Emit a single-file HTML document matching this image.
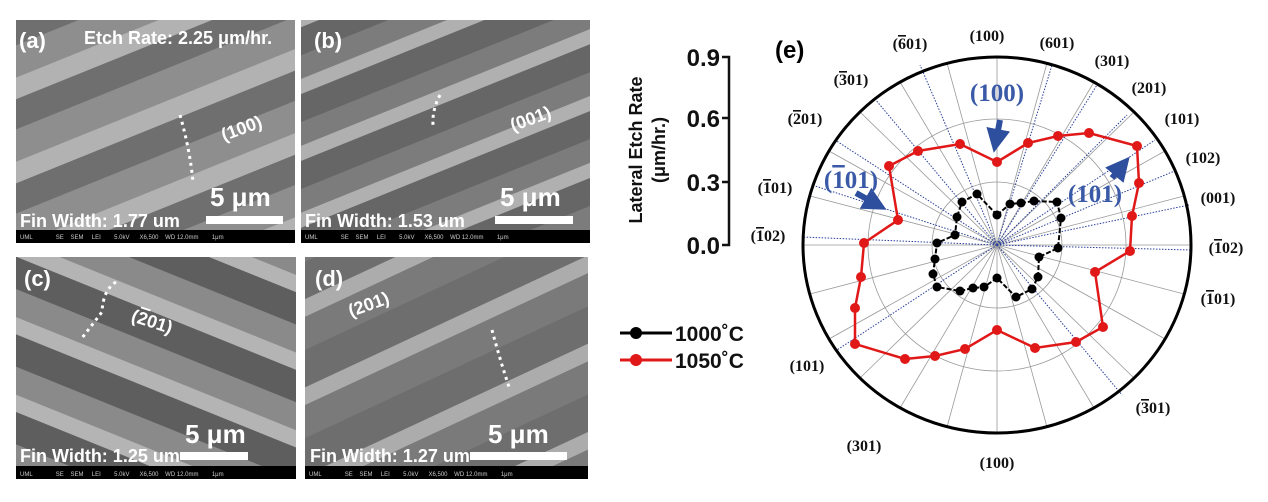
<!DOCTYPE html>
<html><head><meta charset="utf-8"><style>
html,body{margin:0;padding:0;background:#fff;}
svg{display:block;}
.o{text-decoration:overline;}
</style></head><body>
<svg width="1268" height="502" viewBox="0 0 1268 502" xmlns="http://www.w3.org/2000/svg" font-family="Liberation Sans, sans-serif">
<defs>
<pattern id="pa" width="400" height="78" patternUnits="userSpaceOnUse" patternTransform="rotate(-22)">
<rect width="400" height="78" fill="#6f6f6f"/><rect y="0" width="400" height="20" fill="#b2b2b2"/><rect y="48" width="400" height="30" fill="#8e8e8e"/></pattern>
<pattern id="pb" width="400" height="62" patternUnits="userSpaceOnUse" patternTransform="rotate(-22)">
<rect width="400" height="62" fill="#7c7c7c"/><rect y="0" width="400" height="14" fill="#b0b0b0"/><rect y="14" width="400" height="26" fill="#666"/></pattern>
<pattern id="pc" width="400" height="72" patternUnits="userSpaceOnUse" patternTransform="rotate(22)">
<rect width="400" height="72" fill="#8a8a8a"/><rect y="0" width="400" height="16" fill="#b4b4b4"/><rect y="16" width="400" height="30" fill="#5e5e5e"/></pattern>
<pattern id="pd" width="400" height="80" patternUnits="userSpaceOnUse" patternTransform="rotate(-25)">
<rect width="400" height="80" fill="#6e6e6e"/><rect y="0" width="400" height="16" fill="#acacac"/><rect y="16" width="400" height="30" fill="#7a7a7a"/></pattern>
<marker id="ah" markerWidth="4" markerHeight="4" refX="2" refY="2" orient="auto"><path d="M0,0 L4,2 L0,4z" fill="#2e4f9e"/></marker>
</defs>
<g font-weight="bold" fill="#fff">
<rect x="16" y="20" width="279" height="222" fill="url(#pa)"/>
<rect x="16" y="230" width="279" height="13" fill="#000"/>
<text x="19" y="48" font-size="22">(a)</text>
<text x="84" y="44" font-size="18">Etch Rate: 2.25 μm/hr.</text>
<text x="221" y="135" font-size="18" transform="rotate(-20 240 130)">(100)</text>
<path d="M180,115 Q190,150 193,182" stroke="#fff" stroke-width="3" stroke-dasharray="3 4" fill="none"/>
<text x="210" y="206" font-size="26">5 μm</text>
<rect x="206" y="216" width="77" height="8"/>
<text x="20" y="227" font-size="18">Fin Width: 1.77 um</text>
<rect x="301" y="20" width="289" height="222" fill="url(#pb)"/>
<rect x="301" y="230" width="289" height="13" fill="#000"/>
<text x="314" y="48" font-size="22">(b)</text>
<text x="510" y="125" font-size="18" transform="rotate(-20 530 120)">(001)</text>
<path d="M440,95 Q432,110 433,125" stroke="#fff" stroke-width="3" stroke-dasharray="3 4" fill="none"/>
<text x="500" y="206" font-size="26">5 μm</text>
<rect x="495" y="216" width="78" height="8"/>
<text x="305" y="227" font-size="18">Fin Width: 1.53 um</text>
<rect x="16" y="257" width="280" height="213" fill="url(#pc)"/>
<rect x="16" y="466" width="280" height="13" fill="#000"/>
<text x="24" y="286" font-size="22">(c)</text>
<text x="132" y="330" font-size="18" transform="rotate(18 160 320)">(<tspan class="o">2</tspan>01)</text>
<path d="M116,282 Q103,290 102,312 L82,338" stroke="#fff" stroke-width="3" stroke-dasharray="3 4" fill="none"/>
<text x="185" y="443" font-size="26">5 μm</text>
<rect x="180" y="452" width="68" height="8"/>
<text x="20" y="462" font-size="18">Fin Width: 1.25 um</text>
<rect x="305" y="257" width="283" height="213" fill="url(#pd)"/>
<rect x="305" y="466" width="283" height="13" fill="#000"/>
<text x="315" y="286" font-size="22">(d)</text>
<text x="348" y="310" font-size="18" transform="rotate(-20 370 305)">(201)</text>
<path d="M492,330 Q500,360 510,390" stroke="#fff" stroke-width="3" stroke-dasharray="3 4" fill="none"/>
<text x="488" y="443" font-size="26">5 μm</text>
<rect x="470" y="452" width="97" height="8"/>
<text x="310" y="462" font-size="18">Fin Width: 1.27 um</text>
</g>
<g font-size="6" fill="#ccc">
<text x="20" y="239" xml:space="preserve">UML              SE    SEM     LEI        5.0kV      X6,500    WD 12.0mm        1μm</text>
<text x="305" y="239" xml:space="preserve">UML              SE    SEM     LEI        5.0kV      X6,500    WD 12.0mm        1μm</text>
<text x="20" y="476" xml:space="preserve">UML              SE    SEM     LEI        5.0kV      X6,500    WD 12.0mm        1μm</text>
<text x="309" y="476" xml:space="preserve">UML              SE    SEM     LEI        5.0kV      X6,500    WD 12.0mm        1μm</text>
</g>

<g transform="translate(997,245)">
<g stroke="#999" stroke-width="0.8" fill="none">
<ellipse rx="65" ry="63"/><ellipse rx="129" ry="126"/>
<line x1="0" y1="-188" x2="0" y2="188"/><line x1="-194" y1="0" x2="194" y2="0"/>
<line x1="-97" y1="-163" x2="97" y2="163"/><line x1="97" y1="-163" x2="-97" y2="163"/>
<line x1="-168" y1="-94" x2="168" y2="94"/><line x1="168" y1="-94" x2="-168" y2="94"/>
<line x1="-50" y1="-182" x2="50" y2="182"/><line x1="50" y1="-182" x2="-50" y2="182"/>
<line x1="-137" y1="-133" x2="137" y2="133"/><line x1="137" y1="-133" x2="-137" y2="133"/>
<line x1="-187" y1="-49" x2="187" y2="49"/><line x1="187" y1="-49" x2="-187" y2="49"/>
</g>
<g stroke="#2a3f9a" stroke-width="1" stroke-dasharray="1.5 1.5" fill="none">
<line x1="0" y1="0" x2="-77" y2="-180"/><line x1="0" y1="0" x2="55" y2="-180"/>
<line x1="0" y1="0" x2="100" y2="-160"/><line x1="0" y1="0" x2="130" y2="-130"/>
<line x1="0" y1="0" x2="158" y2="-105"/><line x1="0" y1="0" x2="180" y2="-75"/>
<line x1="0" y1="0" x2="192" y2="-40"/><line x1="0" y1="0" x2="194" y2="5"/>
<line x1="0" y1="0" x2="125" y2="150"/><line x1="0" y1="0" x2="-160" y2="105"/>
<line x1="0" y1="0" x2="-194" y2="-8"/><line x1="0" y1="0" x2="-162" y2="-105"/>
<line x1="0" y1="0" x2="-122" y2="-146"/><line x1="0" y1="0" x2="-185" y2="-60"/>
</g>
<ellipse rx="194" ry="188" fill="none" stroke="#000" stroke-width="3"/>
<polyline fill="none" stroke="#e01818" stroke-width="2.5" points="0,-83 31,-102 61,-109 92,-112 140,-99 142,-62 135,-29 133,6 98,27 106,82 79,97 38,103 0,85 -32,104 -62,111 -92,114 -142,99 -142,63 -136,32 -133,-2 -99,-25 -108,-79 -79,-94 -37,-101 0,-83"/>
<g fill="#e01818">
<circle cx="0" cy="-83" r="5"/><circle cx="31" cy="-102" r="5"/><circle cx="61" cy="-109" r="5"/><circle cx="92" cy="-112" r="5"/><circle cx="140" cy="-99" r="5"/><circle cx="142" cy="-62" r="5"/><circle cx="135" cy="-29" r="5"/><circle cx="133" cy="6" r="5"/><circle cx="98" cy="27" r="5"/><circle cx="106" cy="82" r="5"/><circle cx="79" cy="97" r="5"/><circle cx="38" cy="103" r="5"/><circle cx="0" cy="85" r="5"/><circle cx="-32" cy="104" r="5"/><circle cx="-62" cy="111" r="5"/><circle cx="-92" cy="114" r="5"/><circle cx="-142" cy="99" r="5"/><circle cx="-142" cy="63" r="5"/><circle cx="-136" cy="32" r="5"/><circle cx="-133" cy="-2" r="5"/><circle cx="-99" cy="-25" r="5"/><circle cx="-108" cy="-79" r="5"/><circle cx="-79" cy="-94" r="5"/><circle cx="-37" cy="-101" r="5"/>
</g>
<polyline fill="none" stroke="#000" stroke-width="2" stroke-dasharray="5 2" points="0,-30 13,-41 24,-42 37,-44 60,-43 64,-27 61,3 42,12 41,32 35,44 19,52 0,33 -13,42 -24,43 -37,46 -60,42 -64,29 -62,14 -60,-2 -42,-10 -40,-28 -35,-43 -20,-51 0,-30"/>
<g fill="#000">
<circle cx="0" cy="-30" r="4.5"/><circle cx="13" cy="-41" r="4.5"/><circle cx="24" cy="-42" r="4.5"/><circle cx="37" cy="-44" r="4.5"/><circle cx="60" cy="-43" r="4.5"/><circle cx="64" cy="-27" r="4.5"/><circle cx="61" cy="3" r="4.5"/><circle cx="42" cy="12" r="4.5"/><circle cx="41" cy="32" r="4.5"/><circle cx="35" cy="44" r="4.5"/><circle cx="19" cy="52" r="4.5"/><circle cx="0" cy="33" r="4.5"/><circle cx="-13" cy="42" r="4.5"/><circle cx="-24" cy="43" r="4.5"/><circle cx="-37" cy="46" r="4.5"/><circle cx="-60" cy="42" r="4.5"/><circle cx="-64" cy="29" r="4.5"/><circle cx="-62" cy="14" r="4.5"/><circle cx="-60" cy="-2" r="4.5"/><circle cx="-42" cy="-10" r="4.5"/><circle cx="-40" cy="-28" r="4.5"/><circle cx="-35" cy="-43" r="4.5"/><circle cx="-20" cy="-51" r="4.5"/>
</g>
<g stroke="#2e4f9e" stroke-width="6" marker-end="url(#ah)">
<line x1="3" y1="-125" x2="-1" y2="-104"/>
<line x1="-141" y1="-52" x2="-121" y2="-41"/>
<line x1="115" y1="-67" x2="125" y2="-79"/>
</g>
<g font-family="Liberation Serif, serif" font-weight="bold" fill="#3a5aa8" font-size="25" text-anchor="middle">
<text x="0" y="-144">(100)</text>
<text x="-146" y="-57">(<tspan class="o">1</tspan>01)</text>
<text x="98" y="-43">(101)</text>
</g>
</g>
<g font-family="Liberation Serif, serif" font-weight="bold" font-size="16" fill="#111" text-anchor="middle">
<text x="910" y="49">(<tspan class="o">6</tspan>01)</text><text x="987" y="41">(100)</text><text x="1057" y="48">(601)</text>
<text x="1112" y="66">(301)</text><text x="1149" y="93">(201)</text><text x="1182" y="124">(101)</text>
<text x="1203" y="163">(102)</text><text x="1218" y="203">(001)</text><text x="1226" y="253">(<tspan class="o">1</tspan>02)</text>
<text x="1218" y="304">(<tspan class="o">1</tspan>01)</text><text x="1153" y="413">(<tspan class="o">3</tspan>01)</text><text x="997" y="468">(100)</text>
<text x="864" y="451">(301)</text><text x="807" y="371">(101)</text><text x="768" y="241">(<tspan class="o">1</tspan>02)</text>
<text x="775" y="193">(<tspan class="o">1</tspan>01)</text><text x="805" y="124">(<tspan class="o">2</tspan>01)</text><text x="851" y="85">(<tspan class="o">3</tspan>01)</text>
</g>
<text x="775" y="58" font-size="24" font-weight="bold">(e)</text>
<g font-weight="bold" fill="#111">
<g font-size="24" text-anchor="end">
<text x="720" y="66">0.9</text><text x="720" y="127">0.6</text><text x="720" y="191">0.3</text><text x="720" y="254">0.0</text>
</g>
<path d="M722,57 H729 V245 H722 M722,118 H729 M722,182 H729" stroke="#111" stroke-width="2.5" fill="none"/>
<text transform="translate(642,150) rotate(-90)" font-size="18" text-anchor="middle">Lateral Etch Rate</text>
<text transform="translate(665,150) rotate(-90)" font-size="18" text-anchor="middle">(μm/hr.)</text>
<line x1="620" y1="333" x2="672" y2="333" stroke="#000" stroke-width="3"/><circle cx="636" cy="333" r="6" fill="#000"/>
<line x1="620" y1="360" x2="672" y2="360" stroke="#e01818" stroke-width="3"/><circle cx="636" cy="360" r="6" fill="#e01818"/>
<text x="675" y="341" font-size="21">1000˚C</text>
<text x="675" y="368" font-size="21">1050˚C</text>
</g>
</svg>
</body></html>
